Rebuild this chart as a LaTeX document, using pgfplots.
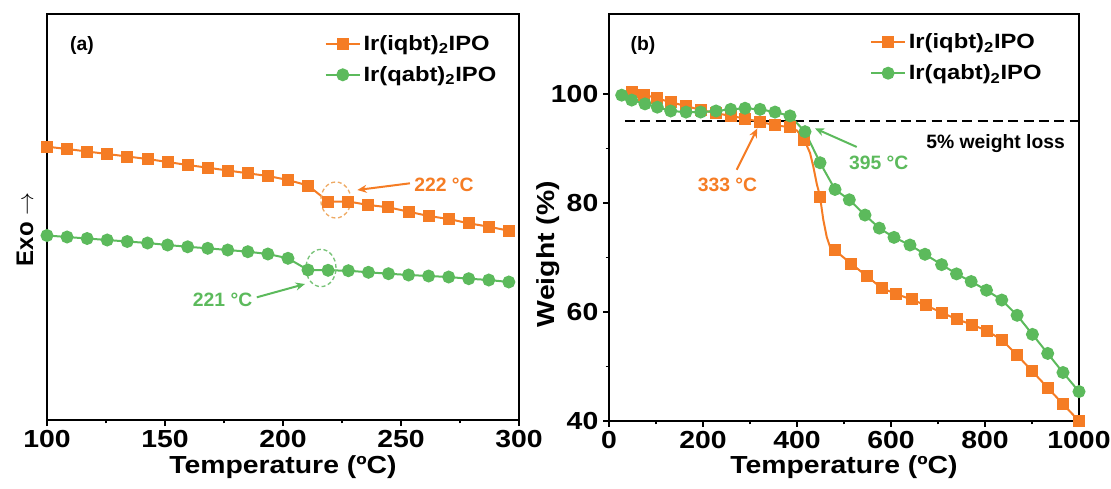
\documentclass[border=0pt]{standalone}
\usepackage{fontspec}
\setmainfont{Liberation Sans}
\newfontfamily\wide{Liberation Sans}[FakeStretch=1.15]
\usepackage{pgfplots}
\pgfplotsset{compat=1.18}
\usetikzlibrary{arrows.meta}
\definecolor{cO}{RGB}{245,124,36}
\definecolor{cG}{RGB}{92,186,92}
\definecolor{cOl}{RGB}{238,170,100}
\definecolor{cGl}{RGB}{120,195,120}
\newcommand{\fs}[1]{\fontsize{#1}{#1}\selectfont\bfseries}
\newcommand{\fw}[1]{\wide\bfseries\fontsize{#1}{#1}\selectfont}

\pgfplotstableread{
x y
100.0 146.7
108.5 149.0
117.0 151.5
125.5 154.0
134.0 156.5
142.6 159.0
151.1 162.0
159.6 165.0
168.1 167.7
176.6 170.5
185.1 173.3
193.6 176.0
202.1 180.0
210.6 185.5
219.1 201.5
227.7 201.5
236.2 205.0
244.7 207.3
253.2 211.7
261.7 216.0
270.2 219.0
278.7 223.3
287.2 226.7
295.7 230.7
}\dscO

\pgfplotstableread{
x y
100.0 235.5
108.5 237.0
117.0 238.5
125.5 240.0
134.0 241.5
142.6 243.0
151.1 245.0
159.6 246.8
168.1 248.3
176.6 250.0
185.1 251.7
193.6 254.0
202.1 258.3
210.6 270.0
219.1 270.3
227.7 270.7
236.2 272.3
244.7 273.7
253.2 275.0
261.7 276.0
270.2 277.0
278.7 278.7
287.2 280.0
295.7 282.0
}\dscG

\pgfplotstableread{
x y
48.3 100.4
75.1 99.9
102.8 99.2
131.3 98.5
163.8 97.8
195.1 97.1
227.7 96.5
258.9 96.0
289.4 95.5
321.3 94.9
353.2 94.3
385.1 93.9
415.5 91.6
448.9 81.2
480.9 71.3
514.9 68.9
548.3 66.6
580.2 64.4
611.3 63.3
643.8 62.3
675.1 61.2
707.7 59.9
739.4 58.7
771.9 57.7
803.2 56.6
835.7 54.9
868.3 52.1
900.9 49.1
933.4 46.1
966.0 43.1
1000.0 40.0
}\tgaO

\pgfplotstableread{
x y
48.3 100.4
75.1 99.9
102.8 99.2
131.3 98.5
163.8 97.8
195.1 97.1
227.7 96.5
258.9 96.0
289.4 95.5
321.3 94.9
353.2 94.3
385.1 93.9
400.0 93.3
415.5 91.6
427.7 89.2
434.7 86.7
441.9 83.6
448.9 81.2
456.0 76.9
463.2 73.8
470.2 72.0
480.9 71.3
514.9 68.9
548.3 66.6
580.2 64.4
611.3 63.3
643.8 62.3
675.1 61.2
707.7 59.9
739.4 58.7
771.9 57.7
803.2 56.6
835.7 54.9
868.3 52.1
900.9 49.1
933.4 46.1
966.0 43.1
1000.0 40.0
}\tgaOline

\pgfplotstableread{
x y
27.0 99.8
48.3 98.9
76.6 98.2
102.8 97.6
131.3 96.9
163.8 96.7
195.1 96.7
227.7 96.9
258.9 97.2
289.4 97.4
321.3 97.2
353.2 96.7
385.1 96.0
417.0 93.1
449.0 87.4
480.9 82.5
511.3 80.6
544.7 77.8
575.1 75.4
606.4 73.7
640.4 72.3
672.3 70.6
707.7 68.7
739.4 67.0
770.6 65.6
803.2 64.0
835.7 62.2
868.3 59.4
900.9 55.9
933.4 52.4
965.9 48.9
1000.0 45.4
}\tgaG

\pgfplotsset{
  mystyle/.style={
    scale only axis,
    axis line style={line width=1.2pt},
    tick style={line width=1.1pt, black},
    tick align=outside, xtick pos=bottom, ytick pos=left,
    major tick length=4.5pt, minor tick length=2.5pt,
    tick label style={font=\fw{18.5}},
    /pgf/number format/assume math mode=true,
    /pgf/number format/1000 sep={},
    legend style={draw=none, fill=none, font=\fw{15.5}, row sep=6.5pt, inner sep=1pt, anchor=north west},
    legend cell align=left,
    legend image code/.code={\draw[mark repeat=2,mark phase=2] plot coordinates {(0cm,0cm) (0.45cm,0cm) (0.9cm,0cm)};},
  },
  oline/.style={cO, line width=1.5pt, mark=square*, mark size=3.75pt, mark options={solid}},
  gline/.style={cG, line width=1.5pt, mark=*, mark size=4.1pt, mark options={solid}},
}

\begin{document}
\begin{tikzpicture}
\path[use as bounding box] (0,0) rectangle (833.25pt,366.75pt);

% ---------- (a) DSC ----------
\begin{axis}[mystyle,
  at={(35.25pt,51.75pt)}, anchor=south west,
  width=354pt, height=304.5pt,
  xmin=100, xmax=300, ymin=14, ymax=420, y dir=reverse,
  xtick={100,150,200,250,300}, minor x tick num=1,
  ytick=\empty,
  xlabel={Temperature (ºC)}, ylabel={Exo $\rightarrow$},
  every axis x label/.style={at={(axis description cs:0.5,-0.1158)}, anchor=center, font=\fw{18.5}},
  every axis y label/.style={at={(axis description cs:-0.0466,0.47)}, rotate=90, anchor=center, font=\fs{18}},
  legend style={at={(0.585,0.958)}},
]
\addplot[oline] table {\dscO};
\addlegendentry{Ir(iqbt)\textsubscript{2}IPO}
\addplot[gline] table {\dscG};
\addlegendentry{Ir(qabt)\textsubscript{2}IPO}
\node[font=\fs{14.5}] at (axis cs:114.8,46) {(a)};
\draw[cOl, line width=1pt, dash pattern=on 3pt off 2pt] (axis cs:222.4,200) ellipse [x radius=11.25pt, y radius=13.5pt];
\draw[cGl, line width=1pt, dash pattern=on 3pt off 2pt] (axis cs:216.1,268) ellipse [x radius=11.25pt, y radius=14pt];
\draw[cO, line width=1.5pt, -{Stealth[length=7pt,width=6pt]}] (axis cs:253.8,183.3) -- (axis cs:231.5,190);
\draw[cG, line width=1.5pt, -{Stealth[length=7pt,width=6pt]}] (axis cs:188.9,297.3) -- (axis cs:209.3,284);
\node[font=\fs{14.5}, text=cO] at (axis cs:268.2,185) {222 °C};
\node[font=\fs{14.5}, text=cG] at (axis cs:174.4,300) {221 °C};
\end{axis}

% ---------- (b) TGA ----------
\begin{axis}[mystyle,
  at={(456.75pt,51pt)}, anchor=south west,
  width=352.5pt, height=305.25pt,
  xmin=0, xmax=1000, ymin=40, ymax=114.7,
  xtick={0,200,400,600,800,1000}, minor x tick num=1,
  ytick={40,60,80,100}, minor y tick num=1,
  xlabel={Temperature (ºC)}, ylabel={Weight (\%)},
  every axis x label/.style={at={(axis description cs:0.5,-0.113)}, anchor=center, font=\fw{18.5}},
  every axis y label/.style={at={(axis description cs:-0.13,0.41)}, rotate=90, anchor=center, font=\fw{18.5}},
  legend style={at={(0.552,0.962)}},
]
\addplot[black, line width=1.5pt, dash pattern=on 7.5pt off 4pt, forget plot] coordinates {(34,95) (1000,95)};
\addplot[cO, line width=1.5pt, forget plot] table {\tgaOline};
\addplot[oline, only marks, forget plot] table {\tgaO};
\addplot[gline, forget plot] table {\tgaG};
\addlegendimage{oline}
\addlegendentry{Ir(iqbt)\textsubscript{2}IPO}
\addlegendimage{gline}
\addlegendentry{Ir(qabt)\textsubscript{2}IPO}
\node[font=\fs{14.5}] at (axis cs:72.3,109.0) {(b)};
\node[font=\fs{14.5}, anchor=east] at (axis cs:980,91.0) {5\% weight loss};
\draw[cG, line width=1.5pt, -{Stealth[length=7pt,width=6pt]}] (axis cs:527,90.3) -- (axis cs:438.3,93.7);
\draw[cO, line width=1.5pt, -{Stealth[length=7pt,width=6pt]}] (axis cs:271.7,86.1) -- (axis cs:315.5,93.7);
\node[font=\fs{14.5}, text=cG] at (axis cs:574,87.3) {395 °C};
\node[font=\fs{14.5}, text=cO] at (axis cs:252,83.3) {333 °C};
\end{axis}
\end{tikzpicture}
\end{document}
